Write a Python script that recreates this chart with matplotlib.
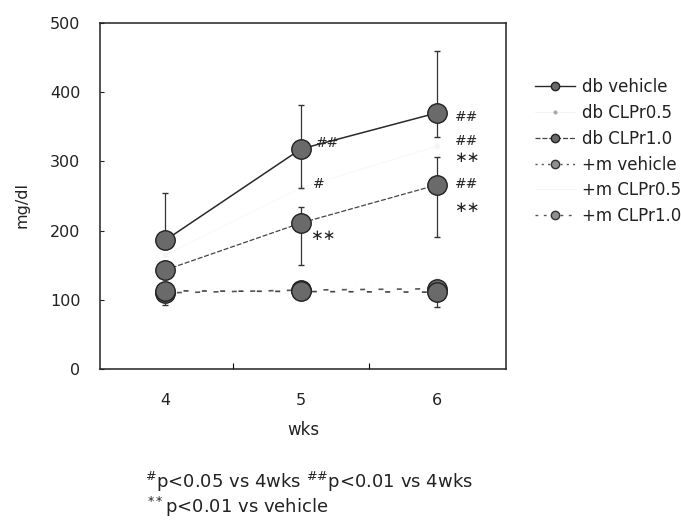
import matplotlib
matplotlib.use("Agg")
import matplotlib.pyplot as plt
from matplotlib.lines import Line2D

# ---- data ----
weeks = [4, 5, 6]
week_labels = ["4", "5", "6"]

db_vehicle = [186, 318, 370]
db_vehicle_err_low = [0, 56, 35]
db_vehicle_err_up = [68, 64, 90]

db_clpr05 = [165, 262, 322]

db_clpr10 = [143, 211, 266]
db_clpr10_err_low = [0, 61, 75]
db_clpr10_err_up = [0, 23, 41]

m_vehicle = [113, 112, 111]
m_vehicle_err_low = [20, 0, 22]
m_vehicle_err_up = [0, 14, 0]

m_clpr05 = [116, 113, 130]

m_clpr10 = [110, 114, 116]

series_labels = ["db vehicle", "db CLPr0.5", "db CLPr1.0",
                 "+m vehicle", "+m CLPr0.5", "+m CLPr1.0"]

# annotations: (x, y, text)
annot_hash = [(5.1, 327, "##"), (5.08, 268, "#"),
              (6.13, 364, "##"), (6.13, 330, "##"), (6.13, 267, "##")]
annot_star = [(5.07, 193, "∗∗"), (6.13, 306, "∗∗"), (6.13, 234, "∗∗")]

# ---- figure ----
fig = plt.figure(figsize=(6.81, 5.2), dpi=100)
ax = fig.add_axes([100 / 681, (520 - 369) / 520, 406 / 681, 346 / 520])

mk = dict(marker="o", markersize=14, markerfacecolor="#6a6a6a",
          markeredgecolor="#222222", markeredgewidth=1.0)
eb = dict(ecolor="#333333", elinewidth=0.9, capsize=2.5, capthick=0.8)

faint = "#f5f5f5"
ax.plot(weeks, db_clpr05, color=faint, lw=0.5, marker="o", markersize=3,
        markerfacecolor=faint, markeredgecolor=faint, zorder=1)
ax.plot(weeks, m_clpr05, color=faint, lw=0.5, ls=(0, (3, 8)), marker="o",
        markersize=3, markerfacecolor=faint, markeredgecolor=faint, zorder=1)

ax.errorbar(weeks, m_clpr10, color="#555555", lw=1.2, ls=(4, (3, 8)), zorder=2, **mk)
ax.errorbar(weeks, m_vehicle, yerr=[m_vehicle_err_low, m_vehicle_err_up],
            color="#444444", lw=1.2, ls=(0, (3, 8)), zorder=3, **mk, **eb)
ax.errorbar(weeks, db_clpr10, yerr=[db_clpr10_err_low, db_clpr10_err_up],
            color="#444444", lw=0.9, ls=(0, (4, 1.5)), zorder=4, **mk, **eb)
ax.errorbar(weeks, db_vehicle, yerr=[db_vehicle_err_low, db_vehicle_err_up],
            color="#2a2a2a", lw=1.1, ls="-", zorder=5, **mk, **eb)

for x, y, t in annot_hash:
    ax.text(x, y, t, fontsize=10, style="italic", color="#222222",
            ha="left", va="center")
for x, y, t in annot_star:
    ax.text(x, y, t, fontsize=11, color="#222222", ha="left", va="center")

ax.set_xlim(3.52, 6.51)
ax.set_ylim(0, 500)
ax.set_yticks([0, 100, 200, 300, 400, 500])
ax.tick_params(axis="y", direction="in", length=3, width=0.8, pad=14,
               labelsize=11.5, colors="#222222")
ax.set_xticks([4.5, 5.5])
ax.set_xticklabels([])
ax.set_xticks(weeks, minor=True)
ax.set_xticklabels(week_labels, minor=True)
ax.tick_params(axis="x", which="major", direction="in", length=4, width=0.8)
ax.tick_params(axis="x", which="minor", length=0, pad=17, labelsize=11.5,
               colors="#222222")
for s in ax.spines.values():
    s.set_linewidth(1.1)
    s.set_color("#222222")

fig.text(22 / 681, 1 - 205 / 520, "mg/dl", rotation=90, fontsize=11.5,
         ha="center", va="center", color="#222222")
fig.text(303 / 681, 1 - 430 / 520, "wks", fontsize=12, ha="center",
         va="center", color="#222222")

# legend
leg_handles = [
    Line2D([], [], color="#2a2a2a", lw=1.0, ls="-", marker="o", markersize=6,
           markerfacecolor="#6a6a6a", markeredgecolor="#222222"),
    Line2D([], [], color="#eeeeee", lw=0.5, ls="-", marker="o", markersize=2,
           markerfacecolor="#aaaaaa", markeredgecolor="#aaaaaa"),
    Line2D([], [], color="#444444", lw=0.9, ls=(0, (4, 1.5)), marker="o",
           markersize=6, markerfacecolor="#6a6a6a", markeredgecolor="#222222"),
    Line2D([], [], color="#555555", lw=1.0, ls=(0, (1.5, 3)), marker="o",
           markersize=6, markerfacecolor="#909090", markeredgecolor="#333333"),
    Line2D([], [], color="#f2f2f2", lw=0.5, ls="-"),
    Line2D([], [], color="#555555", lw=1.0, ls=(0, (2, 4)), marker="o",
           markersize=6, markerfacecolor="#909090", markeredgecolor="#333333"),
]
fig.legend(leg_handles, series_labels, loc="upper left",
           bbox_to_anchor=(535 / 681, 1 - 78 / 520), frameon=False,
           fontsize=12, handlelength=2.4, handletextpad=0.4,
           labelspacing=0.47, borderpad=0, borderaxespad=0,
           labelcolor="#222222")

# footnotes
fig.text(145 / 681, 1 - 482 / 520,
         r"$^{\#}$p<0.05 vs 4wks $^{\#\#}$p<0.01 vs 4wks",
         fontsize=13, ha="left", va="center", color="#222222")
fig.text(147 / 681, 1 - 507 / 520, r"$^{**}$p<0.01 vs vehicle",
         fontsize=13, ha="left", va="center", color="#222222")

fig.savefig("out.png", dpi=100)
